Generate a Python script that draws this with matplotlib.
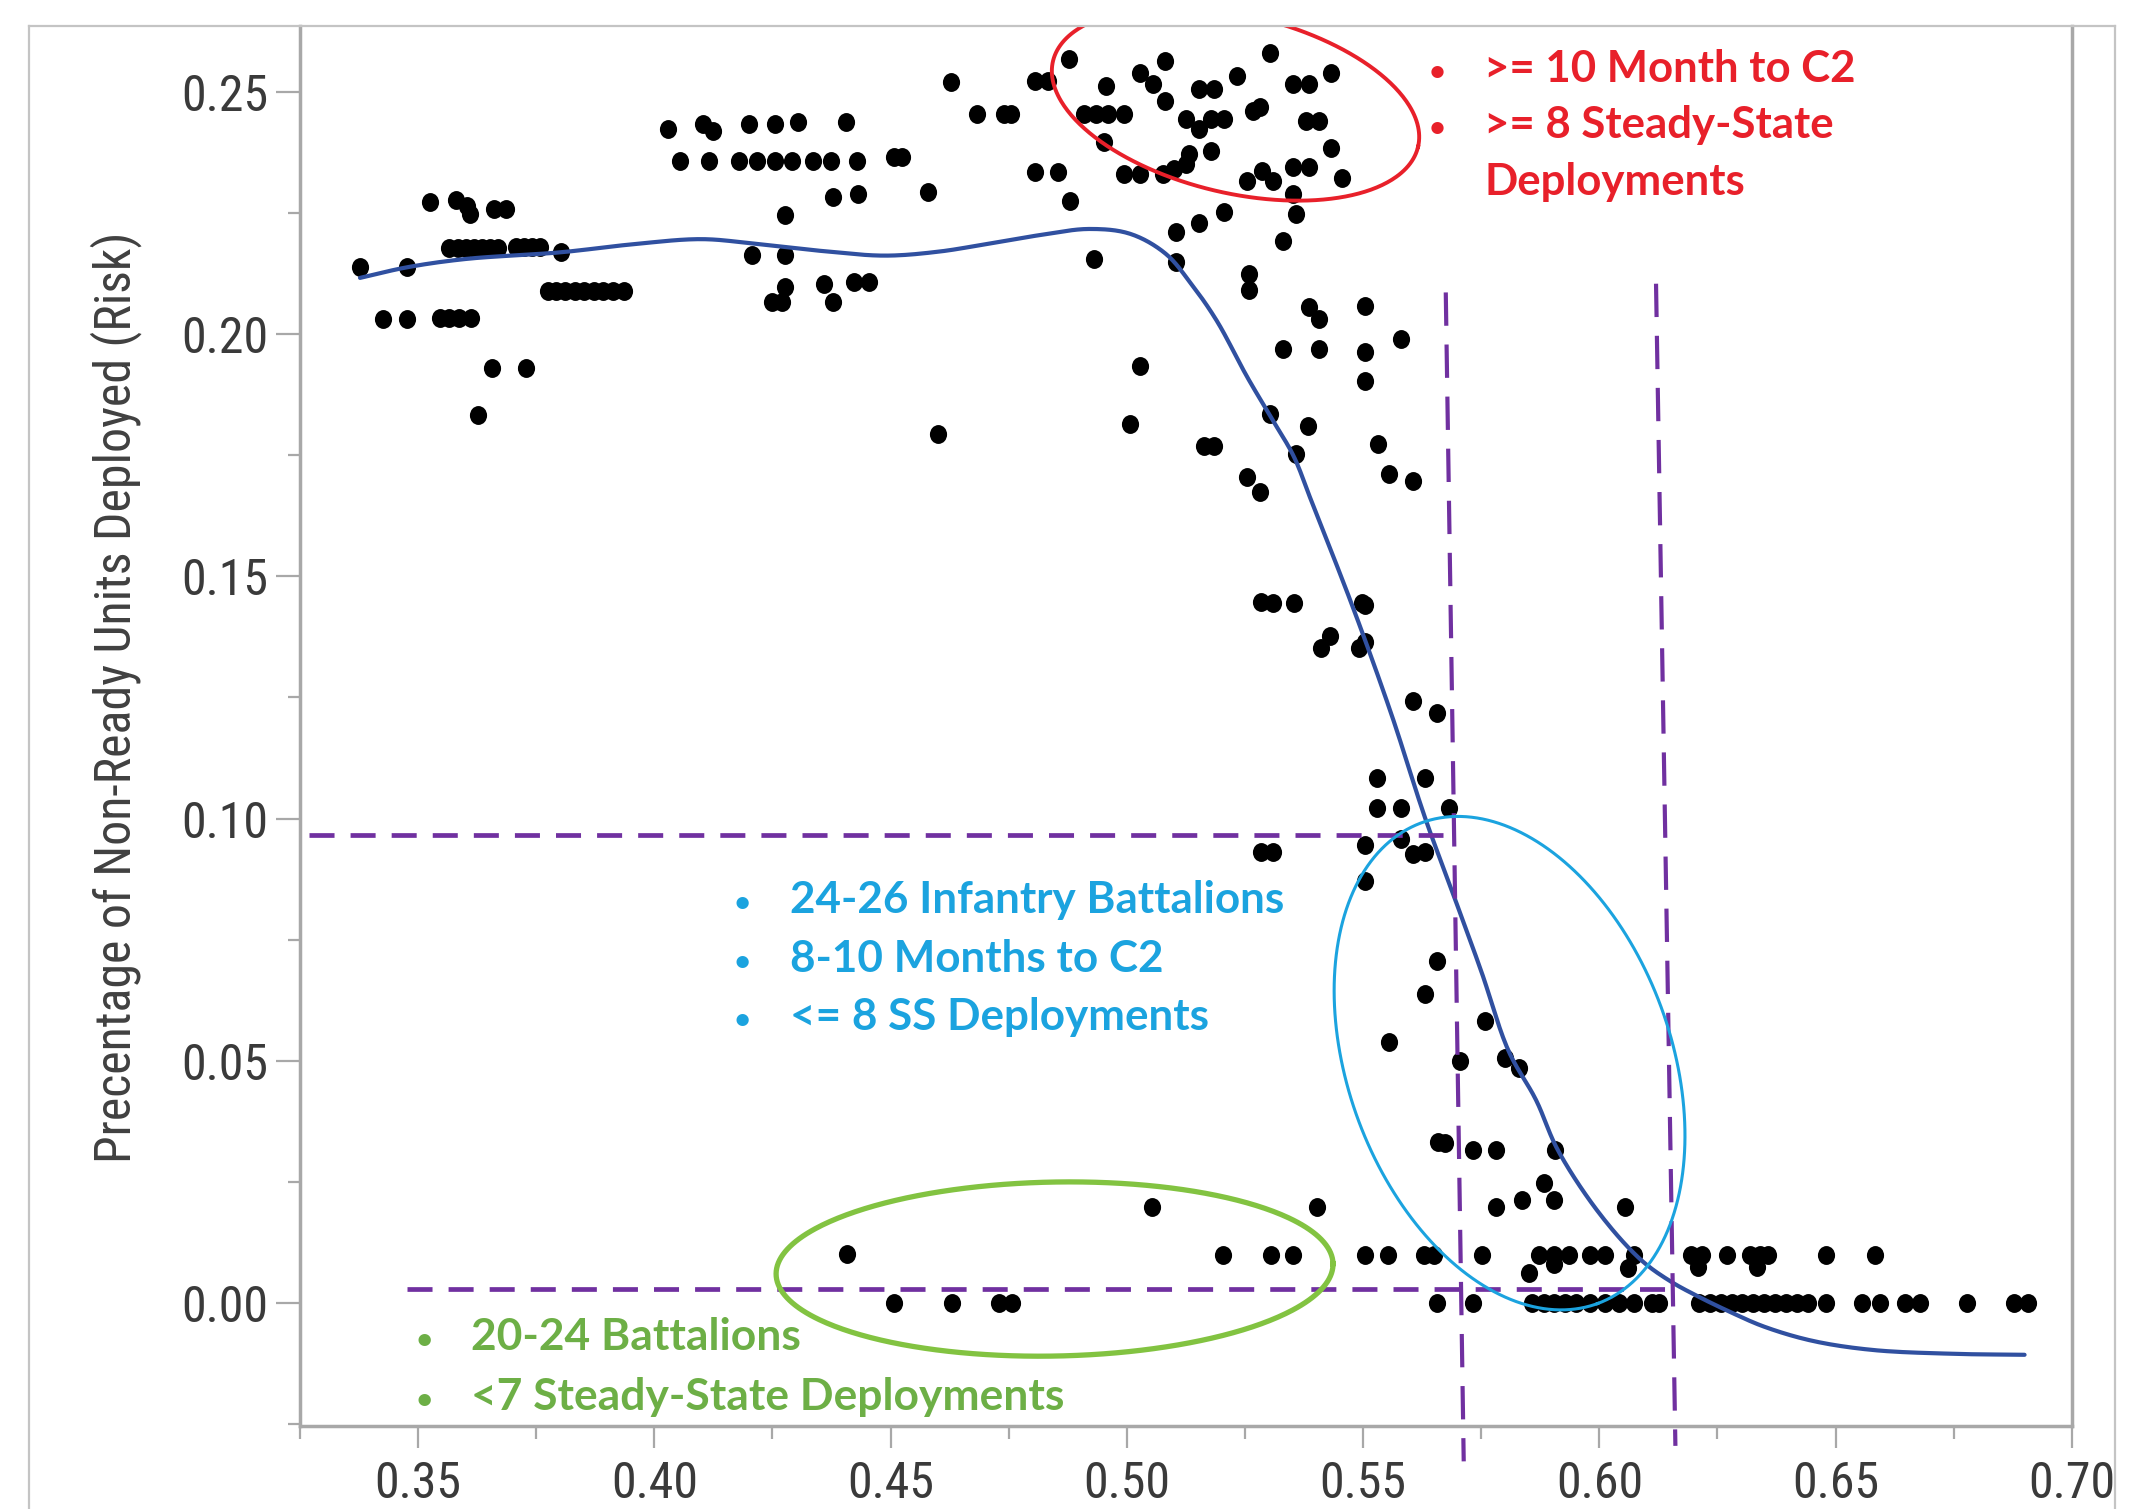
import numpy as np
import matplotlib
matplotlib.use("Agg")
import matplotlib.pyplot as plt
from matplotlib import font_manager
from matplotlib.path import Path
from matplotlib.lines import Line2D

# ---------------- data ----------------
# left cluster
x_left = [0.3376, 0.3425, 0.3477, 0.3477, 0.3526, 0.3581, 0.3604, 0.3610, 0.3661, 0.3685,
          0.3566, 0.3584, 0.3601, 0.3618, 0.3636, 0.3653, 0.3670,
          0.3708, 0.3725, 0.3742, 0.3757, 0.3803,
          0.3546, 0.3566, 0.3587, 0.3612, 0.3656, 0.3728, 0.3627,
          0.3774, 0.3791, 0.3811, 0.3832, 0.3852, 0.3872, 0.3892, 0.3912, 0.3935]
y_left = [0.2138, 0.2031, 0.2031, 0.2138, 0.2273, 0.2276, 0.2264, 0.2247, 0.2259, 0.2259,
          0.2177, 0.2177, 0.2177, 0.2177, 0.2177, 0.2177, 0.2177,
          0.2180, 0.2180, 0.2180, 0.2180, 0.2169,
          0.2034, 0.2034, 0.2034, 0.2034, 0.1930, 0.1930, 0.1832,
          0.2088, 0.2088, 0.2088, 0.2088, 0.2088, 0.2088, 0.2088, 0.2088, 0.2088]

# middle cluster (0.40 - 0.49)
x_mid = [0.4028, 0.4103, 0.4125, 0.4201, 0.4255, 0.4303, 0.4406,
         0.4055, 0.4115, 0.4179, 0.4217, 0.4255, 0.4292, 0.4336, 0.4374, 0.4428,
         0.4507, 0.4525, 0.4379, 0.4431, 0.4276, 0.4579, 0.4627,
         0.4682, 0.4741, 0.4755, 0.4806, 0.4833, 0.4877, 0.4806, 0.4855, 0.4879, 0.4931,
         0.4206, 0.4276, 0.4276, 0.4249, 0.4271, 0.4358, 0.4379, 0.4422, 0.4454, 0.4601]
y_mid = [0.2423, 0.2434, 0.2420, 0.2434, 0.2434, 0.2437, 0.2437,
         0.2358, 0.2358, 0.2358, 0.2358, 0.2358, 0.2358, 0.2358, 0.2358, 0.2358,
         0.2365, 0.2365, 0.2282, 0.2289, 0.2245, 0.2293, 0.2520,
         0.2454, 0.2454, 0.2454, 0.2523, 0.2523, 0.2568, 0.2334, 0.2334, 0.2275, 0.2155,
         0.2164, 0.2164, 0.2097, 0.2066, 0.2066, 0.2103, 0.2066, 0.2107, 0.2107, 0.1794]

# upper cluster (0.49 - 0.56)
x_top = [0.4955, 0.5028, 0.5055, 0.5081, 0.5081, 0.4909, 0.4935, 0.4961, 0.4995, 0.4952,
         0.4995, 0.5028, 0.5077, 0.5125, 0.5152, 0.5179, 0.5206, 0.5152, 0.5184, 0.5233,
         0.5266, 0.5282, 0.5304, 0.5131, 0.5125, 0.5179, 0.5100, 0.5255, 0.5287, 0.5309,
         0.5352, 0.5385, 0.5379, 0.5406, 0.5433, 0.5433, 0.5352, 0.5385, 0.5455, 0.5352,
         0.5357, 0.5331, 0.5104, 0.5152, 0.5206, 0.5104, 0.5258, 0.5258, 0.5385, 0.5406,
         0.5504, 0.5331, 0.5406, 0.5504, 0.5504, 0.5580, 0.5028, 0.5006, 0.5163, 0.5185,
         0.5304, 0.5383, 0.5358, 0.5255, 0.5282, 0.5531, 0.5555, 0.5605]
y_top = [0.2513, 0.2540, 0.2516, 0.2564, 0.2482, 0.2454, 0.2454, 0.2454, 0.2454, 0.2396,
         0.2330, 0.2330, 0.2330, 0.2444, 0.2423, 0.2444, 0.2444, 0.2506, 0.2506, 0.2533,
         0.2461, 0.2468, 0.2581, 0.2372, 0.2351, 0.2378, 0.2340, 0.2317, 0.2337, 0.2317,
         0.2516, 0.2516, 0.2440, 0.2440, 0.2540, 0.2385, 0.2344, 0.2344, 0.2323, 0.2289,
         0.2248, 0.2193, 0.2210, 0.2229, 0.2253, 0.2149, 0.2124, 0.2090, 0.2055, 0.2031,
         0.2059, 0.1970, 0.1970, 0.1963, 0.1904, 0.1990, 0.1935, 0.1815, 0.1770, 0.1770,
         0.1835, 0.1811, 0.1753, 0.1705, 0.1674, 0.1774, 0.1712, 0.1696]

# steep region
x_steep = [0.5283, 0.5309, 0.5353, 0.5498, 0.5505, 0.5411, 0.5430, 0.5492, 0.5505,
           0.5605, 0.5656, 0.5530, 0.5631, 0.5530, 0.5580, 0.5681,
           0.5505, 0.5580, 0.5605, 0.5631, 0.5283, 0.5309, 0.5505,
           0.5656, 0.5631, 0.5757, 0.5555, 0.5706, 0.5801, 0.5830,
           0.5659, 0.5674, 0.5733, 0.5782, 0.5907, 0.5882, 0.5904, 0.5836, 0.5782,
           0.6055, 0.5054, 0.5403]
y_steep = [0.1448, 0.1444, 0.1444, 0.1444, 0.1440, 0.1353, 0.1376, 0.1353, 0.1364,
           0.1242, 0.1218, 0.1084, 0.1084, 0.1021, 0.1021, 0.1021,
           0.0946, 0.0958, 0.0926, 0.0930, 0.0930, 0.0930, 0.0871,
           0.0705, 0.0638, 0.0582, 0.0539, 0.0499, 0.0505, 0.0485,
           0.0333, 0.0330, 0.0316, 0.0316, 0.0316, 0.0247, 0.0213, 0.0213, 0.0199,
           0.0198, 0.0199, 0.0199]

# low rows (near 0.01 and 0.00)
x_low = [0.5204, 0.5306, 0.5352, 0.5505, 0.5552, 0.5628, 0.5651, 0.5751, 0.5873, 0.5904,
         0.5935, 0.5981, 0.6011, 0.6073, 0.6195, 0.6218, 0.6270, 0.6318, 0.6341, 0.6356,
         0.6479, 0.6583, 0.6208, 0.6333, 0.5851, 0.5904, 0.6060, 0.4408]
y_low = [0.0099] * 22 + [0.0075, 0.0075, 0.0062, 0.0080, 0.0072, 0.0101]

x_zero = [0.4507, 0.4629, 0.4730, 0.4756, 0.5656, 0.5733, 0.5858, 0.5882, 0.5904, 0.5927,
          0.5950, 0.5981, 0.6011, 0.6042, 0.6073, 0.6111, 0.6127, 0.6211, 0.6234, 0.6257,
          0.6280, 0.6303, 0.6326, 0.6349, 0.6372, 0.6395, 0.6418, 0.6441, 0.6479, 0.6556,
          0.6594, 0.6648, 0.6678, 0.6778, 0.6877, 0.6908]
y_zero = [0.0] * len(x_zero)

# smoother curve
curve_x = [0.3377, 0.3477, 0.3600, 0.3803, 0.3950, 0.4100, 0.4217, 0.4350, 0.4487, 0.4600,
           0.4704, 0.4820, 0.4920, 0.5007, 0.5082, 0.5136, 0.5190, 0.5255, 0.5309, 0.5353,
           0.5390, 0.5480, 0.5560, 0.5631, 0.5688, 0.5750, 0.5808, 0.5866, 0.5912, 0.6000,
           0.6088, 0.6150, 0.6210, 0.6280, 0.6349, 0.6450, 0.6578, 0.6750, 0.6900]
curve_y = [0.2116, 0.2138, 0.2155, 0.2169, 0.2185, 0.2196, 0.2186, 0.2172, 0.2162, 0.2170,
           0.2186, 0.2205, 0.2217, 0.2207, 0.2166, 0.2104, 0.2028, 0.1911, 0.1822, 0.1748,
           0.1657, 0.1432, 0.1215, 0.1002, 0.0851, 0.0685, 0.0520, 0.0419, 0.0316, 0.0185,
           0.0089, 0.0045, 0.0013, -0.0020, -0.0049, -0.0078, -0.0097, -0.0105, -0.0107]

# threshold (dashed) lines: (x0, y0, x1, y1)
h_lines = [(0.3269, 0.0966, 0.5670, 0.0966), (0.3476, 0.0028, 0.6160, 0.0028)]
v_lines = [(0.5675, 0.2086, 0.5713, -0.0327), (0.6120, 0.2104, 0.6161, -0.0295)]

x_ticks = [0.35, 0.40, 0.45, 0.50, 0.55, 0.60, 0.65, 0.70]
y_ticks = [0.00, 0.05, 0.10, 0.15, 0.20, 0.25]
y_label = "Precentage of Non-Ready Units Deployed (Risk)"

# (text, has_bullet)
red_lines = [(">= 10 Month to C2", True), (">= 8 Steady-State", True), ("Deployments", False)]
blue_lines = [("24-26 Infantry Battalions", True), ("8-10 Months to C2", True),
              ("<= 8 SS Deployments", True)]
green_lines = [("20-24 Battalions", True), ("<7 Steady-State Deployments", True)]

# ---------------- styling ----------------
names = {f.name for f in font_manager.fontManager.ttflist}
TICK_FONT, TICK_SIZE = 'Liberation Sans', 31.5
for cand in ['Liberation Sans Narrow', 'Arial Narrow', 'Roboto Condensed', 'Open Sans Condensed']:
    if cand in names:
        TICK_FONT, TICK_SIZE = cand, 36
        break
NOTE_FONT = 'Lato' if 'Lato' in names else 'DejaVu Sans'
plt.rcParams['font.family'] = [TICK_FONT, 'DejaVu Sans']

W, H = 2133, 1509
fig = plt.figure(figsize=(W / 100, H / 100), dpi=100)
fig.patch.set_facecolor('white')
ax = fig.add_axes([300 / W, 1 - 1426 / H, (2072 - 300) / W, (1426 - 26) / H])
ax.set_xlim(0.32525, 0.70004)
ax.set_ylim(-0.0254, 0.2636)

SP = '#A8A8A8'
for s in ['left', 'bottom', 'right']:
    ax.spines[s].set_color(SP)
    ax.spines[s].set_linewidth(2.5)
ax.spines['top'].set_visible(False)

ax.set_xticks(x_ticks)
ax.set_xticklabels([f"{v:.2f}" for v in x_ticks])
ax.set_xticks(np.arange(0.325, 0.70, 0.05), minor=True)
ax.set_yticks(y_ticks)
ax.set_yticklabels([f"{v:.2f}" for v in y_ticks])
ax.set_yticks(np.arange(-0.025, 0.24, 0.05), minor=True)
ax.tick_params(axis='x', which='major', length=15.5, width=1.6, color=SP, pad=9,
               labelsize=TICK_SIZE, labelcolor='#3A3A3A')
ax.tick_params(axis='x', which='minor', length=9, width=1.6, color=SP)
ax.tick_params(axis='y', which='major', length=17, width=1.6, color=SP, pad=6,
               labelsize=TICK_SIZE, labelcolor='#3A3A3A')
ax.tick_params(axis='y', which='minor', length=9, width=1.6, color=SP)

# dots (slightly tall, as in the reference)
circ = Path.unit_circle()
dot = Path(circ.vertices * np.array([1.0, 1.1]), circ.codes)
all_x = x_left + x_mid + x_top + x_steep + x_low + x_zero
all_y = y_left + y_mid + y_top + y_steep + y_low + y_zero
ax.scatter(all_x, all_y, s=185, marker=dot, c='black', linewidths=0, zorder=3)

fig.canvas.draw()


def smooth_line(xs, ys, n=16):
    """Centripetal Catmull-Rom rendering through the read curve points (in pixel space)."""
    P = ax.transData.transform(np.column_stack([xs, ys]))
    P = np.vstack([2 * P[0] - P[1], P, 2 * P[-1] - P[-2]])
    out = []
    for i in range(1, len(P) - 2):
        p0, p1, p2, p3 = P[i - 1], P[i], P[i + 1], P[i + 2]
        t0 = 0.0
        t1 = t0 + np.linalg.norm(p1 - p0) ** 0.5
        t2 = t1 + np.linalg.norm(p2 - p1) ** 0.5
        t3 = t2 + np.linalg.norm(p3 - p2) ** 0.5
        t = np.linspace(t1, t2, n, endpoint=False)[:, None]
        a1 = (t1 - t) / (t1 - t0) * p0 + (t - t0) / (t1 - t0) * p1
        a2 = (t2 - t) / (t2 - t1) * p1 + (t - t1) / (t2 - t1) * p2
        a3 = (t3 - t) / (t3 - t2) * p2 + (t - t2) / (t3 - t2) * p3
        b1 = (t2 - t) / (t2 - t0) * a1 + (t - t0) / (t2 - t0) * a2
        b2 = (t3 - t) / (t3 - t1) * a2 + (t - t1) / (t3 - t1) * a3
        out.append((t2 - t) / (t2 - t1) * b1 + (t - t1) / (t2 - t1) * b2)
    out.append(P[-2][None, :])
    d = ax.transData.inverted().transform(np.vstack(out))
    return d[:, 0], d[:, 1]


sx, sy = smooth_line(curve_x, curve_y)
ax.plot(sx, sy, color='#3050A0', lw=3, zorder=4, solid_capstyle='round',
        solid_joinstyle='round')

PURPLE = '#7030A0'
for (x0, y0, x1, y1) in h_lines:
    ax.plot([x0, x1], [y0, y1], color=PURPLE, lw=3.4, dashes=(5.3, 3.4), zorder=5,
            clip_on=False)
for (x0, y0, x1, y1) in v_lines:
    ax.plot([x0, x1], [y0, y1], color=PURPLE, lw=3.0, dashes=(8, 4.5), zorder=5,
            clip_on=False)


def ellipse(center, a_px, b_px, angle_deg, color, lw):
    c = ax.transData.transform(center)
    t = np.linspace(0, 2 * np.pi, 400)
    th = np.deg2rad(angle_deg)
    px = c[0] + a_px * np.cos(t) * np.cos(th) - b_px * np.sin(t) * np.sin(th)
    py = c[1] + a_px * np.cos(t) * np.sin(th) + b_px * np.sin(t) * np.cos(th)
    d = ax.transData.inverted().transform(np.column_stack([px, py]))
    ax.plot(d[:, 0], d[:, 1], color=color, lw=lw, zorder=6)


ellipse((0.5230, 0.2475), 187.5, 89, -13.2, '#E8202A', 2.8)
ellipse((0.5810, 0.0495), 256, 161.6, -69.9, '#1BA3DF', 2.2)
ellipse((0.4847, 0.0070), 278.5, 87, 1.1, '#82C341', 3.8)

renderer = fig.canvas.get_renderer()


def note(lines, bullet_x, text_x, baselines, color, target_w):
    texts = [ax.text(text_x, yb, s, color=color, family=NOTE_FONT, fontweight='bold',
                     fontsize=28, ha='left', va='baseline', zorder=7)
             for (s, _), yb in zip(lines, baselines)]
    widest = max(t.get_window_extent(renderer).width for t in texts)
    fs = 28 * target_w / widest
    for t in texts:
        t.set_fontsize(fs)
    for (_, has_bullet), yb in zip(lines, baselines):
        if has_bullet:
            ax.text(bullet_x, yb, "\u2022", color=color, family=NOTE_FONT, fontsize=fs * 0.75,
                    ha='center', va='baseline', zorder=7)


note(red_lines, 0.5657, 0.5756, [0.2521, 0.2405, 0.2288], '#E8202A', 372)
note(blue_lines, 0.4186, 0.4287, [0.0805, 0.0684, 0.0564], '#1BA3DF', 494)
note(green_lines, 0.3513, 0.3612, [-0.0097, -0.0221], '#6DAF46', 593)

# y label fitted to its length in the reference
yl = fig.text(116 / W, 1 - 697 / H, y_label, rotation=90, ha='center', va='center',
              fontsize=30, color='#404040')
h = yl.get_window_extent(renderer).height
yl.set_fontsize(30 * 932 / h)

# outer frame
FR = '#C4C4C4'
fig.add_artist(Line2D([29 / W, 29 / W], [0, 1 - 26 / H], transform=fig.transFigure, color=FR, lw=1.6))
fig.add_artist(Line2D([29 / W, 2115 / W], [1 - 26 / H, 1 - 26 / H], transform=fig.transFigure, color=FR, lw=1.6))
fig.add_artist(Line2D([2115 / W, 2115 / W], [0, 1 - 26 / H], transform=fig.transFigure, color=FR, lw=1.6))

fig.savefig("out.png", dpi=100, facecolor='white')
